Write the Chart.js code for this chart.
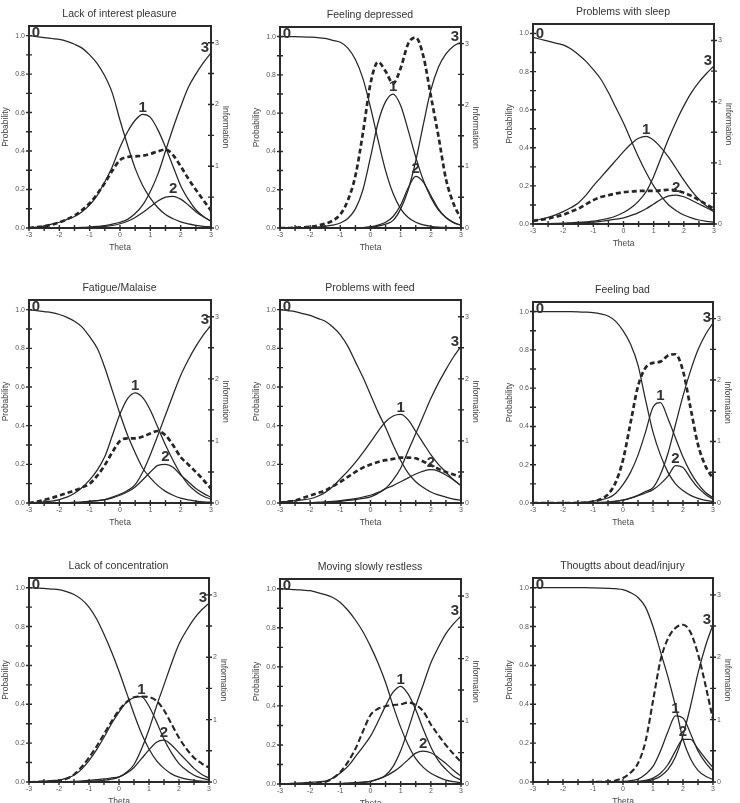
<!DOCTYPE html>
<html>
<head>
<meta charset="utf-8">
<script src="https://cdn.jsdelivr.net/npm/chart.js@4.4.0/dist/chart.umd.min.js"></script>
<style>
  body { margin: 0; background: #fff; width: 740px; height: 803px; overflow: hidden; position: relative; }
  canvas { position: absolute; }
</style>
</head>
<body>
<script>
// theta grid shared by every panel
const theta = [-3, -2.75, -2.5, -2.25, -2, -1.75, -1.5, -1.25, -1, -0.75, -0.5, -0.25, 0, 0.25, 0.5, 0.75, 1, 1.25, 1.5, 1.75, 2, 2.25, 2.5, 2.75, 3];
const xTicks = [-3, -2.5, -2, -1.5, -1, -0.5, 0, 0.5, 1, 1.5, 2, 2.5, 3];
const probTicks = [0, 0.1, 0.2, 0.3, 0.4, 0.5, 0.6, 0.7, 0.8, 0.9, 1.0];
const infoTicks = [0, 0.5, 1, 1.5, 2, 2.5, 3];

// lack of interest pleasure
const interest0 = [1.0,0.995,0.99,0.985,0.98,0.97,0.955,0.935,0.9,0.855,0.79,0.7,0.56,0.43,0.31,0.22,0.155,0.105,0.07,0.048,0.032,0.021,0.014,0.009,0.006];
const interest1 = [0,0.005,0.01,0.02,0.03,0.045,0.06,0.085,0.12,0.17,0.24,0.32,0.42,0.5,0.56,0.59,0.575,0.51,0.42,0.32,0.22,0.15,0.095,0.06,0.035];
const interest2 = [0,0,0,0,0,0.001,0.001,0.002,0.003,0.005,0.008,0.013,0.022,0.035,0.055,0.08,0.11,0.14,0.16,0.165,0.15,0.12,0.085,0.058,0.035];
const interest3 = [0,0,0,0,0,0.001,0.002,0.003,0.005,0.008,0.012,0.02,0.03,0.045,0.075,0.12,0.19,0.28,0.4,0.52,0.63,0.73,0.8,0.86,0.91];
const interestInfo = [0,0.015,0.03,0.055,0.09,0.14,0.2,0.29,0.4,0.55,0.73,0.93,1.1,1.15,1.16,1.17,1.2,1.24,1.27,1.18,1.0,0.8,0.62,0.45,0.28];

// feeling depressed
const depressed0 = [1,1,1,0.998,0.997,0.995,0.99,0.98,0.97,0.94,0.88,0.78,0.63,0.46,0.3,0.18,0.1,0.055,0.03,0.016,0.009,0.005,0.003,0.002,0.001];
const depressed1 = [0,0,0,0.002,0.003,0.005,0.01,0.015,0.026,0.05,0.1,0.2,0.37,0.55,0.66,0.7,0.64,0.51,0.37,0.25,0.16,0.095,0.055,0.03,0.015];
const depressed2 = [0,0,0,0,0,0,0,0,0,0,0,0.002,0.006,0.015,0.03,0.06,0.12,0.21,0.27,0.24,0.17,0.1,0.055,0.028,0.014];
const depressed3 = [0,0,0,0,0,0,0,0,0,0,0,0.002,0.005,0.01,0.02,0.04,0.1,0.2,0.35,0.54,0.72,0.84,0.91,0.95,0.97];
const depressedInfo = [0,0,0.005,0.01,0.02,0.04,0.07,0.12,0.22,0.45,0.85,1.55,2.35,2.7,2.55,2.35,2.6,3.0,3.1,2.8,2.15,1.5,0.8,0.4,0.15];

// problems with sleep
const sleep0 = [0.98,0.97,0.96,0.95,0.94,0.92,0.89,0.855,0.81,0.76,0.69,0.61,0.53,0.44,0.35,0.27,0.2,0.145,0.1,0.07,0.047,0.032,0.021,0.014,0.009];
const sleep1 = [0.017,0.025,0.035,0.048,0.065,0.085,0.11,0.15,0.2,0.245,0.29,0.335,0.38,0.42,0.45,0.46,0.44,0.4,0.35,0.29,0.23,0.175,0.13,0.095,0.07];
const sleep2 = [0,0,0,0.001,0.002,0.003,0.005,0.007,0.01,0.014,0.019,0.025,0.032,0.045,0.06,0.08,0.105,0.13,0.148,0.152,0.143,0.125,0.105,0.085,0.065];
const sleep3 = [0.001,0.001,0.002,0.003,0.004,0.006,0.008,0.011,0.015,0.022,0.03,0.042,0.06,0.085,0.12,0.17,0.25,0.35,0.45,0.54,0.62,0.69,0.745,0.79,0.83];
const sleepInfo = [0.05,0.07,0.09,0.12,0.15,0.2,0.25,0.32,0.39,0.44,0.47,0.5,0.52,0.53,0.54,0.54,0.54,0.55,0.56,0.55,0.51,0.46,0.39,0.32,0.25];

// fatigue/malaise
const fatigue0 = [1.0,0.995,0.99,0.985,0.975,0.96,0.94,0.91,0.86,0.8,0.7,0.58,0.46,0.35,0.26,0.18,0.13,0.09,0.06,0.04,0.025,0.016,0.01,0.006,0.004];
const fatigue1 = [0,0.003,0.006,0.01,0.018,0.03,0.05,0.08,0.12,0.17,0.24,0.35,0.46,0.54,0.57,0.545,0.48,0.39,0.3,0.22,0.15,0.095,0.06,0.035,0.02];
const fatigue2 = [0,0,0,0,0.001,0.002,0.003,0.005,0.008,0.012,0.018,0.027,0.04,0.058,0.083,0.12,0.16,0.195,0.2,0.185,0.145,0.11,0.075,0.05,0.03];
const fatigue3 = [0,0,0,0,0.001,0.002,0.003,0.005,0.008,0.012,0.018,0.03,0.045,0.065,0.095,0.16,0.25,0.35,0.455,0.56,0.66,0.74,0.81,0.87,0.92];
const fatigueInfo = [0,0.02,0.05,0.08,0.12,0.16,0.2,0.25,0.31,0.44,0.61,0.82,1.0,1.04,1.04,1.07,1.12,1.16,1.09,0.93,0.74,0.62,0.5,0.37,0.23];

// problems with feed
const feed0 = [1.0,0.995,0.99,0.98,0.97,0.955,0.94,0.91,0.87,0.81,0.73,0.65,0.56,0.47,0.39,0.3,0.22,0.155,0.11,0.08,0.057,0.042,0.03,0.02,0.014];
const feed1 = [0.005,0.008,0.012,0.016,0.022,0.035,0.055,0.085,0.125,0.165,0.21,0.26,0.315,0.37,0.42,0.45,0.458,0.43,0.37,0.31,0.25,0.2,0.16,0.12,0.09];
const feed2 = [0,0,0,0.001,0.002,0.003,0.005,0.008,0.012,0.017,0.023,0.031,0.04,0.055,0.074,0.09,0.11,0.13,0.15,0.165,0.172,0.165,0.145,0.12,0.09];
const feed3 = [0,0,0,0.001,0.002,0.003,0.004,0.006,0.009,0.013,0.018,0.024,0.032,0.05,0.075,0.12,0.18,0.27,0.36,0.45,0.54,0.62,0.69,0.755,0.81];
const feedInfo = [0,0.02,0.04,0.08,0.12,0.16,0.2,0.27,0.34,0.42,0.5,0.57,0.62,0.66,0.69,0.71,0.73,0.73,0.72,0.67,0.61,0.55,0.5,0.46,0.42];

// feeling bad
const bad0 = [1,1,1,1,1,1,0.999,0.997,0.994,0.988,0.977,0.95,0.9,0.83,0.72,0.54,0.37,0.25,0.16,0.1,0.065,0.04,0.024,0.014,0.008];
const bad1 = [0,0,0,0,0.001,0.002,0.003,0.005,0.01,0.016,0.026,0.05,0.096,0.16,0.25,0.37,0.5,0.525,0.44,0.34,0.24,0.16,0.1,0.055,0.028];
const bad2 = [0,0,0,0,0,0,0,0.001,0.002,0.003,0.005,0.01,0.015,0.025,0.038,0.052,0.07,0.1,0.14,0.195,0.185,0.13,0.08,0.045,0.02];
const bad3 = [0,0,0,0,0,0,0,0,0.001,0.002,0.004,0.008,0.015,0.025,0.04,0.06,0.08,0.15,0.26,0.41,0.56,0.69,0.8,0.88,0.94];
const badInfo = [0,0,0,0,0,0,0,0.005,0.02,0.06,0.14,0.33,0.7,1.3,1.9,2.2,2.28,2.3,2.4,2.42,2.15,1.55,0.95,0.6,0.4];

// lack of concentration
const concentr0 = [1.0,0.998,0.996,0.993,0.99,0.98,0.965,0.94,0.9,0.84,0.76,0.67,0.57,0.46,0.35,0.25,0.17,0.11,0.07,0.042,0.025,0.015,0.009,0.005,0.003];
const concentr1 = [0,0.002,0.004,0.007,0.01,0.02,0.035,0.065,0.11,0.165,0.23,0.3,0.36,0.41,0.435,0.44,0.39,0.31,0.22,0.15,0.095,0.06,0.035,0.02,0.01];
const concentr2 = [0,0,0,0,0.001,0.002,0.003,0.005,0.008,0.012,0.016,0.021,0.026,0.045,0.075,0.12,0.165,0.205,0.215,0.19,0.15,0.11,0.07,0.04,0.02];
const concentr3 = [0,0,0,0,0,0.001,0.002,0.003,0.004,0.006,0.009,0.015,0.025,0.05,0.09,0.17,0.27,0.39,0.5,0.61,0.71,0.78,0.84,0.885,0.92];
const concentrInfo = [0,0.003,0.006,0.01,0.02,0.05,0.12,0.24,0.39,0.57,0.77,0.97,1.15,1.28,1.36,1.37,1.36,1.3,1.15,0.93,0.71,0.53,0.39,0.3,0.23];

// moving slowly restless
const moving0 = [1.0,0.998,0.996,0.993,0.99,0.98,0.97,0.955,0.93,0.89,0.84,0.78,0.705,0.62,0.52,0.4,0.29,0.2,0.13,0.085,0.055,0.035,0.02,0.012,0.006];
const moving1 = [0,0.002,0.004,0.006,0.008,0.011,0.015,0.03,0.056,0.09,0.14,0.19,0.245,0.32,0.4,0.47,0.5,0.46,0.38,0.28,0.19,0.12,0.075,0.04,0.02];
const moving2 = [0,0,0,0,0,0,0.001,0.002,0.003,0.005,0.007,0.01,0.014,0.025,0.04,0.062,0.09,0.125,0.158,0.168,0.16,0.135,0.105,0.07,0.04];
const moving3 = [0,0,0,0,0,0,0,0.001,0.002,0.003,0.005,0.008,0.013,0.025,0.045,0.09,0.17,0.28,0.4,0.51,0.62,0.7,0.77,0.82,0.86];
const movingInfo = [0,0,0,0,0.005,0.015,0.03,0.09,0.19,0.35,0.56,0.84,1.1,1.2,1.24,1.26,1.27,1.3,1.26,1.16,0.95,0.78,0.62,0.48,0.35];

// thoughts about dead/injury
const dead0 = [1,1,1,1,1,1,1,1,0.999,0.998,0.997,0.995,0.99,0.975,0.95,0.9,0.8,0.67,0.54,0.39,0.22,0.12,0.06,0.03,0.013];
const dead1 = [0,0,0,0,0,0,0,0,0,0,0,0.001,0.003,0.007,0.015,0.04,0.08,0.16,0.26,0.34,0.33,0.25,0.16,0.1,0.055];
const dead2 = [0,0,0,0,0,0,0,0,0,0,0,0,0,0.001,0.003,0.008,0.02,0.045,0.09,0.16,0.22,0.22,0.17,0.12,0.075];
const dead3 = [0,0,0,0,0,0,0,0,0,0,0,0,0,0.001,0.002,0.005,0.012,0.03,0.065,0.13,0.24,0.39,0.56,0.7,0.81];
const deadInfo = [0,0,0,0,0,0,0,0,0.002,0.005,0.01,0.025,0.065,0.15,0.3,0.65,1.3,1.95,2.3,2.47,2.52,2.4,2.05,1.55,1.0];

// plot boxes: left, top, width, height of each plot area
const panels = [
  { title: "Lack of interest pleasure", curves: [interest0, interest1, interest2, interest3], info: interestInfo, box: [29, 26, 182, 202] },
  { title: "Feeling depressed", curves: [depressed0, depressed1, depressed2, depressed3], info: depressedInfo, box: [280, 27, 181, 201] },
  { title: "Problems with sleep", curves: [sleep0, sleep1, sleep2, sleep3], info: sleepInfo, box: [533, 24, 181, 200] },
  { title: "Fatigue/Malaise", curves: [fatigue0, fatigue1, fatigue2, fatigue3], info: fatigueInfo, box: [29, 300, 182, 203] },
  { title: "Problems with feed", curves: [feed0, feed1, feed2, feed3], info: feedInfo, box: [280, 300, 181, 203] },
  { title: "Feeling bad", curves: [bad0, bad1, bad2, bad3], info: badInfo, box: [533, 302, 180, 201] },
  { title: "Lack of concentration", curves: [concentr0, concentr1, concentr2, concentr3], info: concentrInfo, box: [29, 578, 180, 204] },
  { title: "Moving slowly restless", curves: [moving0, moving1, moving2, moving3], info: movingInfo, box: [280, 579, 181, 205] },
  { title: "Thougtts about dead/injury", curves: [dead0, dead1, dead2, dead3], info: deadInfo, box: [533, 578, 180, 204] },
];

const AX_L = 29, AX_R = 28, AX_B = 30, TITLE_H = 26;
const INK = "#262626";
Chart.defaults.font.family = '"Liberation Sans", Arial, sans-serif';
Chart.defaults.color = "#555";

// frame, crossing tick marks and the 0/1/2/3 curve labels
const frameTicks = {
  id: "frameTicks",
  afterDatasetsDraw(chart) {
    const { ctx, chartArea: a, scales } = chart;
    ctx.save();
    ctx.strokeStyle = "#2a2a2a";
    ctx.lineWidth = 2;
    ctx.strokeRect(a.left, a.top, a.right - a.left, a.bottom - a.top);
    ctx.lineWidth = 1.4;
    ctx.beginPath();
    scales.x.ticks.forEach(t => {
      const px = scales.x.getPixelForValue(t.value);
      ctx.moveTo(px, a.bottom - 3); ctx.lineTo(px, a.bottom + 3);
    });
    scales.y.ticks.forEach(t => {
      const py = scales.y.getPixelForValue(t.value);
      ctx.moveTo(a.left - 3, py); ctx.lineTo(a.left + 3, py);
    });
    scales.y2.ticks.forEach(t => {
      const py = scales.y2.getPixelForValue(t.value);
      ctx.moveTo(a.right - 3, py); ctx.lineTo(a.right + 3, py);
    });
    ctx.stroke();

    ctx.font = 'bold 15px "Liberation Sans", Arial, sans-serif';
    ctx.fillStyle = "#333";
    ctx.textAlign = "center";
    ctx.textBaseline = "middle";
    for (let i = 0; i < 4; i++) {
      const meta = chart.getDatasetMeta(i);
      const vals = chart.data.datasets[i].data.map(d => d.y);
      let idx, dx = 0, dy = -7;
      if (i === 0) { idx = 0; dx = 7; dy = -3; }
      else if (i === 3) { idx = vals.length - 1; dx = -6; dy = -5; }
      else { idx = vals.indexOf(Math.max(...vals)); }
      const pt = meta.data[idx];
      ctx.fillText(String(i), pt.x + dx, pt.y + dy);
    }
    ctx.restore();
  }
};

panels.forEach((p, n) => {
  const [x, y, w, h] = p.box;
  const cv = document.createElement("canvas");
  cv.width = w + AX_L + AX_R;
  cv.height = h + TITLE_H + AX_B;
  cv.style.left = (x - AX_L) + "px";
  cv.style.top = (y - TITLE_H) + "px";
  document.body.appendChild(cv);

  const datasets = p.curves.map((c, i) => ({
    label: String(i),
    data: c.map((v, k) => ({ x: theta[k], y: v })),
    yAxisID: "y",
    borderColor: INK,
    borderWidth: 1.25,
    pointRadius: 0,
    cubicInterpolationMode: "monotone",
  }));
  datasets.push({
    label: "Information",
    data: p.info.map((v, k) => ({ x: theta[k], y: v })),
    yAxisID: "y2",
    borderColor: INK,
    borderWidth: n < 6 ? 2.7 : 2.1,
    borderDash: n < 6 ? [5, 3] : [6, 3],
    pointRadius: 0,
    cubicInterpolationMode: "monotone",
  });

  new Chart(cv, {
    type: "line",
    data: { datasets },
    plugins: [frameTicks],
    options: {
      responsive: false,
      animation: false,
      devicePixelRatio: 1,
      layout: { padding: 0 },
      plugins: {
        legend: { display: false },
        tooltip: { enabled: false },
        title: {
          display: true,
          text: p.title,
          color: "#333",
          font: { size: 10.5, weight: "normal" },
          padding: { top: 7.5, bottom: 5.9 },
        },
      },
      scales: {
        x: {
          type: "linear",
          min: -3, max: 3,
          afterBuildTicks: s => { s.ticks = xTicks.map(v => ({ value: v })); },
          afterFit: s => { s.height = AX_B; },
          grid: { display: false, drawTicks: false },
          border: { display: false },
          ticks: {
            autoSkip: false, maxRotation: 0, padding: 3,
            font: { size: 7 }, color: "#555",
            callback: v => Number.isInteger(v) ? String(v) : "",
          },
          title: { display: true, text: "Theta", color: "#444", font: { size: 8.5 }, padding: { top: 0, bottom: 5 } },
        },
        y: {
          type: "linear",
          position: "left",
          min: 0, max: 1.05,
          afterBuildTicks: s => { s.ticks = probTicks.map(v => ({ value: v })); },
          afterFit: s => { s.width = AX_L; },
          grid: { display: false, drawTicks: false },
          border: { display: false },
          ticks: {
            autoSkip: false, padding: 4,
            font: { size: 7 }, color: "#555",
            callback: v => Math.round(v * 10) % 2 === 0 ? v.toFixed(1) : "",
          },
          title: { display: true, text: "Probability", color: "#444", font: { size: 8.5 }, padding: { top: 1, bottom: 0 } },
        },
        y2: {
          type: "linear",
          position: "right",
          min: 0, max: 3.27,
          afterBuildTicks: s => { s.ticks = infoTicks.map(v => ({ value: v })); },
          afterFit: s => { s.width = AX_R; },
          grid: { display: false, drawTicks: false },
          border: { display: false },
          ticks: {
            autoSkip: false, padding: 4,
            font: { size: 7 }, color: "#555",
            callback: v => Number.isInteger(v) ? String(v) : "",
          },
          title: { display: true, text: "Information", color: "#444", font: { size: 8.5 }, padding: { top: 9, bottom: 0 } },
        },
      },
    },
  });
});
</script>
</body>
</html>
